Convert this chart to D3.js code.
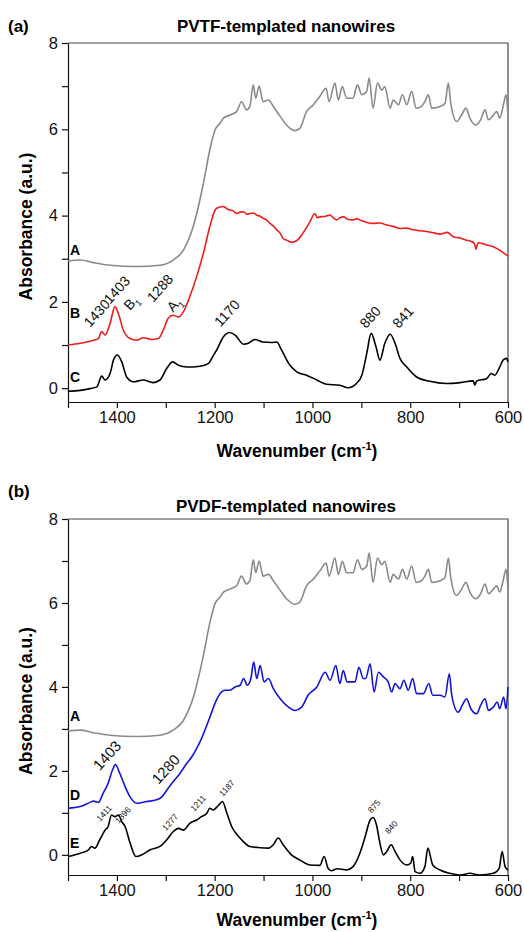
<!DOCTYPE html>
<html>
  <head>
    <meta charset="utf-8">
    <title>FTIR spectra of templated nanowires</title>
    <script src="https://cdn.jsdelivr.net/npm/d3@7"></script>
    <style>
      body { margin: 0; background: #fff; }
      svg { display: block; font-family: "Liberation Sans", Arial, sans-serif; }
      .axis text { font-size: 16.5px; fill: #111; }
      .axis path, .axis line { stroke: #111; stroke-width: 1.2; }
      .frame { fill: none; stroke: #444; stroke-width: 1.2; }
      .title { font-size: 17px; font-weight: bold; text-anchor: middle; }
      .panelTag { font-size: 17px; font-weight: bold; }
      .axisTitle { font-size: 17.5px; font-weight: bold; text-anchor: middle; }
      .curveTag { font-size: 14px; font-weight: bold; }
      .peak { fill: #111; }
      .spectrum { fill: none; stroke-width: 1.6; stroke-linejoin: round; }
    </style>
  </head>

  <body>
    <svg id="chart" width="524" height="932"></svg>

    <script>
      // spectra: [wavenumber, absorbance]
      // A: bare template (same trace in both panels)
      curveA = [
        [1500, 2.95], [1475, 2.97], [1448, 2.91], [1414, 2.85], [1360, 2.82], [1312, 2.85],
        [1285, 2.97], [1264, 3.2], [1244, 3.74], [1223, 4.75], [1210, 5.52], [1199, 5.99],
        [1189, 6.14], [1182, 6.26], [1169, 6.33], [1155, 6.41], [1145, 6.64], [1135, 6.45],
        [1128, 6.53], [1121, 7.03], [1116, 6.72], [1109, 7.0], [1101, 6.64], [1090, 6.68],
        [1080, 6.53], [1066, 6.3], [1053, 6.1], [1036, 5.97], [1026, 6.02], [1012, 6.41],
        [998, 6.57], [985, 6.76], [972, 6.95], [966, 6.64], [954, 7.07], [947, 6.68],
        [939, 6.99], [930, 6.72], [917, 6.72], [908, 7.03], [899, 6.8], [889, 6.88],
        [884, 7.19], [876, 6.49], [867, 7.07], [858, 6.91], [852, 6.99], [841, 6.49],
        [835, 6.68], [824, 6.57], [816, 6.8], [807, 6.57], [797, 6.88], [788, 6.49],
        [777, 6.53], [770, 6.64], [763, 6.8], [756, 6.49], [739, 6.53], [729, 6.6],
        [722, 7.07], [717, 6.6], [705, 6.18], [695, 6.33], [686, 6.49], [678, 6.26],
        [666, 6.1], [656, 6.22], [647, 6.45], [640, 6.22], [630, 6.33], [623, 6.41],
        [617, 6.26], [610, 6.53], [604, 6.8], [600, 6.3]
      ];
      // B: PVTF-templated, red
      curveB = [
        [1500, 1.0], [1475, 1.04], [1448, 1.11], [1438, 1.15], [1431, 1.31], [1424, 1.23],
        [1414, 1.5], [1404, 1.89], [1397, 1.73], [1387, 1.35], [1373, 1.15], [1360, 1.11],
        [1346, 1.17], [1329, 1.13], [1315, 1.15], [1305, 1.35], [1295, 1.62], [1285, 1.69],
        [1274, 1.65], [1264, 1.77], [1251, 2.12], [1237, 2.58], [1223, 3.13], [1210, 3.74],
        [1199, 4.13], [1196, 4.17], [1182, 4.21], [1175, 4.16], [1169, 4.13], [1162, 4.11],
        [1155, 4.05], [1148, 4.08], [1141, 4.09], [1134, 4.03], [1128, 4.05], [1121, 4.06],
        [1114, 4.01], [1108, 3.99], [1101, 3.94], [1094, 3.9], [1087, 3.82], [1080, 3.76],
        [1073, 3.67], [1066, 3.59], [1060, 3.47], [1051, 3.42], [1043, 3.38], [1036, 3.4],
        [1029, 3.45], [1022, 3.55], [1015, 3.67], [1010, 3.76], [1005, 3.86], [995, 4.05],
        [990, 3.95], [985, 3.97], [975, 3.98], [964, 4.01], [958, 3.96], [951, 3.9],
        [944, 3.95], [937, 3.97], [927, 3.91], [917, 3.9], [910, 3.93], [903, 3.9],
        [889, 3.84], [876, 3.82], [862, 3.83], [848, 3.78], [835, 3.75], [821, 3.7],
        [808, 3.71], [794, 3.67], [780, 3.65], [766, 3.63], [752, 3.6], [739, 3.57],
        [724, 3.61], [712, 3.51], [698, 3.48], [685, 3.43], [675, 3.4], [668, 3.34],
        [666, 3.22], [661, 3.37], [652, 3.35], [644, 3.32], [633, 3.29], [623, 3.24],
        [612, 3.16], [600, 3.06]
      ];
      // C: PVTF nanowires, black
      curveC = [
        [1500, -0.07], [1475, -0.05], [1455, -0.01], [1441, 0.03], [1431, 0.28], [1424, 0.19],
        [1414, 0.34], [1407, 0.65], [1399, 0.77], [1390, 0.61], [1380, 0.26], [1366, 0.15],
        [1346, 0.19], [1326, 0.13], [1312, 0.19], [1298, 0.46], [1286, 0.61], [1274, 0.53],
        [1257, 0.49], [1230, 0.51], [1213, 0.57], [1203, 0.75], [1196, 0.88], [1182, 1.19],
        [1170, 1.29], [1158, 1.23], [1141, 1.02], [1131, 1.04], [1118, 1.13], [1101, 1.07],
        [1083, 1.06], [1073, 1.07], [1063, 0.88], [1046, 0.53], [1032, 0.38], [1012, 0.3],
        [991, 0.19], [971, 0.09], [944, 0.07], [927, 0.01], [910, 0.11], [899, 0.3],
        [889, 0.8], [880, 1.27], [870, 0.96], [862, 0.65], [852, 1.04], [841, 1.25],
        [831, 1.04], [821, 0.69], [807, 0.49], [787, 0.26], [760, 0.16], [726, 0.11],
        [698, 0.13], [671, 0.17], [668, 0.07], [664, 0.17], [644, 0.22], [634, 0.34],
        [627, 0.3], [617, 0.49], [610, 0.65], [603, 0.69], [600, 0.61]
      ];
      // D: PVDF-templated, blue
      curveD = [
        [1500, 1.11], [1475, 1.15], [1455, 1.25], [1448, 1.28], [1438, 1.25], [1428, 1.47],
        [1418, 1.7], [1409, 2.02], [1403, 2.15], [1394, 1.94], [1383, 1.62], [1373, 1.38],
        [1360, 1.23], [1339, 1.27], [1319, 1.31], [1308, 1.38], [1298, 1.54], [1285, 1.74],
        [1271, 1.94], [1257, 2.18], [1247, 2.33], [1237, 2.53], [1227, 2.77], [1216, 3.09],
        [1206, 3.4], [1199, 3.62], [1189, 3.84], [1179, 3.92], [1169, 3.92], [1158, 4.0],
        [1148, 4.04], [1141, 4.2], [1133, 4.04], [1126, 4.2], [1120, 4.59], [1114, 4.2],
        [1107, 4.51], [1099, 4.12], [1090, 4.2], [1080, 3.96], [1066, 3.72], [1049, 3.52],
        [1036, 3.44], [1022, 3.52], [1009, 3.8], [991, 4.0], [974, 4.35], [964, 4.16],
        [952, 4.51], [944, 4.08], [937, 4.39], [929, 4.12], [913, 4.12], [905, 4.47],
        [896, 4.2], [891, 4.2], [882, 4.55], [874, 3.88], [865, 4.35], [855, 4.24],
        [845, 4.12], [838, 3.88], [831, 4.08], [821, 3.96], [813, 4.16], [804, 3.92],
        [795, 4.2], [787, 3.84], [773, 3.84], [762, 4.08], [754, 3.8], [739, 3.8],
        [729, 3.76], [720, 4.31], [715, 3.8], [702, 3.4], [692, 3.6], [685, 3.72],
        [676, 3.48], [664, 3.36], [656, 3.56], [647, 3.72], [640, 3.44], [630, 3.52],
        [622, 3.64], [617, 3.48], [609, 3.76], [604, 3.48], [600, 4.0]
      ];
      // E: PVDF nanowires, black
      curveE = [
        [1500, -0.04], [1475, 0.04], [1458, 0.12], [1452, 0.2], [1445, 0.16], [1435, 0.36],
        [1424, 0.59], [1418, 0.67], [1411, 0.95], [1404, 0.91], [1397, 0.95], [1390, 0.79],
        [1383, 0.67], [1373, 0.28], [1361, -0.04], [1349, 0.0], [1332, 0.12], [1312, 0.2],
        [1298, 0.36], [1285, 0.55], [1274, 0.63], [1264, 0.59], [1251, 0.75], [1237, 0.83],
        [1227, 0.91], [1216, 0.99], [1210, 1.11], [1203, 1.07], [1193, 1.17], [1184, 1.27],
        [1175, 0.99], [1165, 0.67], [1155, 0.49], [1145, 0.36], [1128, 0.2], [1107, 0.17],
        [1090, 0.16], [1080, 0.24], [1070, 0.4], [1060, 0.24], [1043, 0.0], [1026, -0.12],
        [1005, -0.24], [985, -0.25], [976, -0.04], [968, -0.32], [961, -0.38], [950, -0.33],
        [930, -0.36], [917, -0.28], [903, 0.04], [893, 0.4], [882, 0.83], [876, 0.89],
        [869, 0.71], [862, 0.28], [855, 0.0], [848, 0.08], [839, 0.24], [831, 0.08],
        [821, -0.12], [807, -0.24], [799, -0.2], [795, -0.04], [790, -0.4], [780, -0.44],
        [770, -0.28], [764, 0.16], [754, -0.24], [739, -0.36], [719, -0.44], [698, -0.48],
        [678, -0.44], [658, -0.48], [630, -0.44], [618, -0.32], [612, 0.08], [606, -0.28],
        [600, -0.36]
      ];

      // axis ticks
      xTicks = [1500, 1400, 1300, 1200, 1100, 1000, 900, 800, 700, 600];
      xLabels = [1400, 1200, 1000, 800, 600];
      yTicks = [0, 1, 2, 3, 4, 5, 6, 7, 8];
      yLabels = [0, 2, 4, 6, 8];

      // peak labels: [text, wavenumber, absorbance (label centre), font size, subscript]
      peaksTop = [
        ["1430", 1441, 1.74, 14, ""], ["1403", 1400, 2.28, 14, ""], ["B", 1371, 1.99, 14, "1"],
        ["1288", 1312, 2.32, 14, ""], ["A", 1283, 1.95, 14, "1"], ["1170", 1175, 1.74, 14, ""],
        ["880", 882, 1.65, 14, ""], ["841", 815, 1.65, 14, ""]
      ];
      peaksBottom = [
        ["1403", 1420, 2.37, 15, ""], ["1280", 1300, 2.04, 15, ""],
        ["1411", 1426, 0.99, 8.5, ""], ["1396", 1388, 0.95, 8.5, ""], ["1277", 1291, 0.78, 8.5, ""],
        ["1211", 1234, 1.23, 8.5, ""], ["1187", 1175, 1.59, 8.5, ""],
        ["875", 874, 1.16, 8.5, ""], ["840", 839, 0.66, 8.5, ""]
      ];

      panels = [
        {
          tag: "(a)", title: "PVTF-templated nanowires", top: 43, bottom: 402, yMin: -0.32,
          tagY: 32, titleY: 32, xTitleY: 457,
          curves: [[curveA, "#8a8a8a", "A", 3.09], [curveB, "#ee1c1c", "B", 1.63], [curveC, "#000", "C", 0.14]],
          peaks: peaksTop
        },
        {
          tag: "(b)", title: "PVDF-templated nanowires", top: 519, bottom: 875, yMin: -0.48,
          tagY: 497, titleY: 512, xTitleY: 926,
          curves: [[curveA, "#8a8a8a", "A", 3.2], [curveD, "#1414d8", "D", 1.3], [curveE, "#000", "E", 0.16]],
          peaks: peaksBottom
        }
      ];

      chart = d3.select("#chart");
      margin = { left: 68, right: 508 };

      x = d3.scaleLinear()
        .domain([1500, 600])
        .range([margin.left, margin.right]);

      panels.forEach(function(p) {
        g = chart.append("g");
        y = d3.scaleLinear()
          .domain([p.yMin, 8])
          .range([p.bottom, p.top]);

        // frame (top and right)
        g.append("path")
          .attr("class", "frame")
          .attr("d", "M" + x.range()[0] + "," + y(8) + "H" + x.range()[1] + "V" + y(p.yMin));

        // axes
        g.append("g")
          .attr("class", "axis")
          .attr("transform", "translate(0," + p.bottom + ")")
          .call(d3.axisBottom(x)
            .tickValues(xTicks)
            .tickSize(6)
            .tickSizeOuter(0)
            .tickPadding(3)
            .tickFormat(function(d) { return xLabels.indexOf(d) > -1 ? d : ""; }));
        g.append("g")
          .attr("class", "axis")
          .attr("transform", "translate(" + margin.left + ",0)")
          .call(d3.axisLeft(y)
            .tickValues(yTicks)
            .tickSize(6)
            .tickSizeOuter(0)
            .tickPadding(4)
            .tickFormat(function(d) { return yLabels.indexOf(d) > -1 ? d : ""; }));

        // spectra
        line = d3.line()
          .x(function(d) { return x(d[0]); })
          .y(function(d) { return y(d[1]); })
          .curve(d3.curveMonotoneX);
        p.curves.forEach(function(c) {
          g.append("path")
            .attr("class", "spectrum")
            .attr("stroke", c[1])
            .attr("d", line(c[0]));
          g.append("text")
            .attr("class", "curveTag")
            .attr("x", 70)
            .attr("y", y(c[3]))
            .text(c[2]);
        });

        // peak labels, rotated
        p.peaks.forEach(function(k) {
          t = g.append("text")
            .attr("class", "peak")
            .attr("transform", "translate(" + x(k[1]) + "," + y(k[2]) + ") rotate(-48)")
            .attr("text-anchor", "middle")
            .attr("dy", "0.35em")
            .style("font-size", k[3] + "px")
            .text(k[0]);
          if (k[4]) {
            t.append("tspan")
              .attr("dy", 4)
              .style("font-size", "9px")
              .text(k[4]);
          }
        });

        // titles
        g.append("text")
          .attr("class", "panelTag")
          .attr("x", 8)
          .attr("y", p.tagY)
          .text(p.tag);
        g.append("text")
          .attr("class", "title")
          .attr("x", 286)
          .attr("y", p.titleY)
          .text(p.title);
        g.append("text")
          .attr("class", "axisTitle")
          .attr("transform", "translate(32," + ((p.top + p.bottom) / 2 + 4) + ") rotate(-90)")
          .text("Absorbance (a.u.)");
        wn = g.append("text")
          .attr("class", "axisTitle")
          .attr("x", 297)
          .attr("y", p.xTitleY)
          .text("Wavenumber (cm");
        wn.append("tspan")
          .attr("dy", -7)
          .style("font-size", "11px")
          .text("-1");
        wn.append("tspan")
          .attr("dy", 7)
          .text(")");
      });
    </script>
  </body>
</html>
